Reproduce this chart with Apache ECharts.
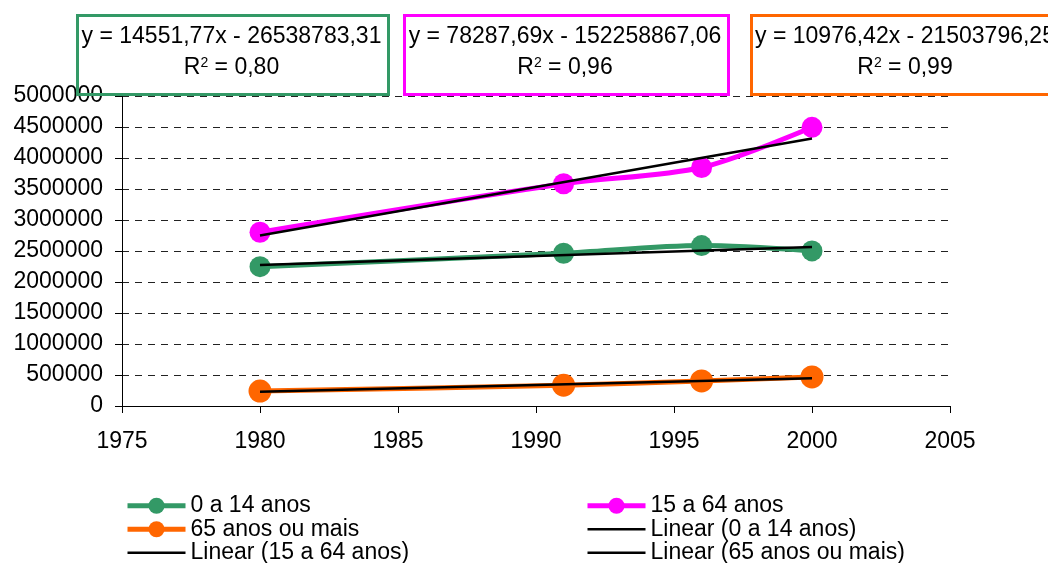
<!DOCTYPE html>
<html>
<head>
<meta charset="utf-8">
<script src="https://cdn.jsdelivr.net/npm/echarts@6/dist/echarts.min.js"></script>
<style>
html,body{margin:0;padding:0;background:#fff;}
#main{width:1048px;height:563px;}
</style>
</head>
<body>
<div id="main"></div>
<script>
// dados
var years = [1980, 1991, 1996, 2000];
var age0_14 = [2247000, 2463000, 2587000, 2501000];
var age15_64 = [2803000, 3584000, 3847000, 4495000];
var age65 = [240000, 336000, 405000, 469000];

// linhas de tendencia (extremos 1980 e 2000)
var trendYears = [1980, 2000];
var trend0_14 = [2273700, 2564800];
var trend15_64 = [2750500, 4316200];
var trend65 = [229500, 449000];

var xTicks = [1975, 1980, 1985, 1990, 1995, 2000, 2005];
var yTicks = [0, 500000, 1000000, 1500000, 2000000, 2500000, 3000000, 3500000, 4000000, 4500000, 5000000];

var equations = [
	{eq:'y = 14551,77x - 26538783,31', r2:'0,80', color:'#339966', left:76, width:311},
	{eq:'y = 78287,69x - 152258867,06', r2:'0,96', color:'#FF00FF', left:403, width:324},
	{eq:'y = 10976,42x - 21503796,25', r2:'0,99', color:'#FF6600', left:750, width:310}
];

var FONT = "'Liberation Sans', Arial, sans-serif";
var FS = 23;

function pairs(xs, ys){
	return xs.map(function(x, i){ return [x, ys[i]]; });
}

function dataSeries(name, ys, color, size){
	return {
		name:name, type:'line', data:pairs(years, ys),
		smooth:0.3, symbol:'circle', symbolSize:size,
		itemStyle:{color:color},
		lineStyle:{color:color, width:5},
		z:2
	};
}

function trendSeries(name, ys){
	return {
		name:name, type:'line', data:pairs(trendYears, ys),
		symbol:'none', itemStyle:{color:'#000'},
		lineStyle:{color:'#000', width:2.5},
		z:3
	};
}

function legendItem(name, isTrend){
	if(isTrend){
		return {name:name, itemStyle:{opacity:0}, lineStyle:{width:2.5, color:'#000'}};
	}
	return {name:name};
}

var graphics = [];
equations.forEach(function(e){
	graphics.push({
		type:'rect', left:e.left, top:14, z:100,
		shape:{width:e.width, height:79},
		style:{fill:'rgba(0,0,0,0)', stroke:e.color, lineWidth:3}
	});
	graphics.push({
		type:'text', z:101,
		x:e.left + e.width / 2, y:37,
		style:{text:e.eq, font:FS + 'px ' + FONT, fill:'#000', align:'center', verticalAlign:'middle'}
	});
	graphics.push({
		type:'text', z:101,
		x:e.left + e.width / 2, y:68,
		style:{
			text:'R{sup|2} = ' + e.r2, font:FS + 'px ' + FONT, fill:'#000',
			align:'center', verticalAlign:'middle',
			rich:{sup:{fontSize:14, fontFamily:FONT, verticalAlign:'top', padding:[0,0,10,0]}}
		}
	});
});

var legendText = {color:'#000', fontSize:FS, fontFamily:FONT, lineHeight:23.5};

function legendBox(left, items){
	return {
		orient:'vertical', left:left, top:494, height:75, width:440,
		itemWidth:58, itemHeight:20, itemGap:0, padding:0,
		textStyle:legendText,
		lineStyle:{width:5},
		data:items
	};
}

var option = {
	backgroundColor:'#fff',
	animation:false,
	textStyle:{fontFamily:FONT},
	grid:{left:122, right:98, top:96, bottom:157, containLabel:false},
	legend:[
		legendBox(125, [
			legendItem('0 a 14 anos'),
			legendItem('65 anos ou mais'),
			legendItem('Linear (15 a 64 anos)', true)
		]),
		legendBox(585, [
			legendItem('15 a 64 anos'),
			legendItem('Linear (0 a 14 anos)', true),
			legendItem('Linear (65 anos ou mais)', true)
		])
	],
	xAxis:{
		type:'value', min:xTicks[0], max:xTicks[xTicks.length - 1], interval:5,
		axisLine:{lineStyle:{color:'#000', width:1}},
		axisTick:{show:true, length:7, lineStyle:{color:'#000'}},
		axisLabel:{color:'#000', fontSize:FS, fontFamily:FONT, margin:24, formatter:function(v){ return String(v); }},
		splitLine:{show:false}
	},
	yAxis:{
		type:'value', min:yTicks[0], max:yTicks[yTicks.length - 1], interval:500000,
		axisLine:{show:true, lineStyle:{color:'#000', width:1}},
		axisTick:{show:true, length:7, lineStyle:{color:'#000'}},
		axisLabel:{color:'#000', fontSize:FS, fontFamily:FONT, margin:19, formatter:function(v){ return String(v); }},
		splitLine:{show:true, lineStyle:{color:'#222', width:1, type:[7,6]}}
	},
	series:[
		dataSeries('0 a 14 anos', age0_14, '#339966', 21),
		dataSeries('15 a 64 anos', age15_64, '#FF00FF', 21),
		dataSeries('65 anos ou mais', age65, '#FF6600', 23),
		trendSeries('Linear (0 a 14 anos)', trend0_14),
		trendSeries('Linear (15 a 64 anos)', trend15_64),
		trendSeries('Linear (65 anos ou mais)', trend65)
	],
	graphic:graphics
};

var myChart = echarts.init(document.getElementById('main'));
myChart.setOption(option);
</script>
</body>
</html>
